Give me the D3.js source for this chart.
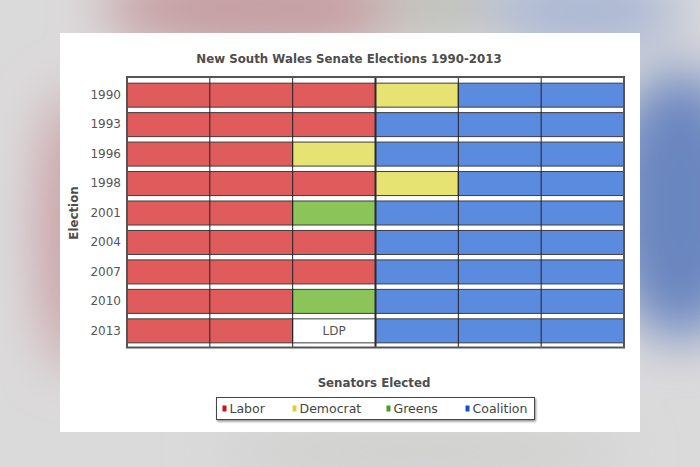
<!DOCTYPE html>
<html>
<head>
<meta charset="utf-8">
<script src="https://cdn.jsdelivr.net/npm/d3@7/dist/d3.min.js"></script>
<style>
  body { margin: 0; background: #dadada; }
  svg { display: block; }
  text { font-family: "DejaVu Sans", sans-serif; }
</style>
</head>
<body>
<svg id="chart"></svg>
<script>
// Data
var elections = ["1990", "1993", "1996", "1998", "2001", "2004", "2007", "2010", "2013"];
var labor     = [3, 3, 2, 3, 2, 3, 3, 2, 2];
var democrat  = [1, 0, 1, 1, 0, 0, 0, 0, 0];
var greens    = [0, 0, 0, 0, 1, 0, 0, 1, 0];
var ldp       = [0, 0, 0, 0, 0, 0, 0, 0, 1];
var coalition = [2, 3, 3, 2, 3, 3, 3, 3, 3];
var seriesNames = ["Labor", "Democrat", "Greens", "LDP", "Coalition"];
var legendNames = ["Labor", "Democrat", "Greens", "Coalition"];
var xTicks = [0, 1, 2, 3, 4, 5, 6];

var W = 700, H = 467;
var svg = d3.select("#chart").attr("width", W).attr("height", H);

// blurred photo-like background
var defs = svg.append("defs");
defs.append("filter").attr("id", "blur")
    .attr("x", "-50%").attr("y", "-50%").attr("width", "200%").attr("height", "200%")
    .append("feGaussianBlur").attr("stdDeviation", 26);
var shadow = defs.append("filter").attr("id", "shadow")
    .attr("x", "-10%").attr("y", "-30%").attr("width", "130%").attr("height", "180%");
shadow.append("feDropShadow").attr("dx", 1).attr("dy", 1.5).attr("stdDeviation", 1)
    .attr("flood-color", "#000").attr("flood-opacity", 0.45);

var bg = svg.append("g");
bg.append("rect").attr("width", W).attr("height", H).attr("fill", "#dbdadb");
var blobs = bg.append("g").attr("filter", "url(#blur)");
blobs.append("ellipse").attr("cx", 260).attr("cy", 8).attr("rx", 160).attr("ry", 45).attr("fill", "#c59ca0");
blobs.append("ellipse").attr("cx", 440).attr("cy", 5).attr("rx", 60).attr("ry", 35).attr("fill", "#bdbfb7");
blobs.append("ellipse").attr("cx", 585).attr("cy", 10).attr("rx", 100).attr("ry", 40).attr("fill", "#a9b6d3");
blobs.append("ellipse").attr("cx", 70).attr("cy", 230).attr("rx", 30).attr("ry", 140).attr("fill", "#c99ca0");
blobs.append("ellipse").attr("cx", 680).attr("cy", 205).attr("rx", 75).attr("ry", 135).attr("fill", "#6a86c0");
blobs.append("ellipse").attr("cx", 420).attr("cy", 452).attr("rx", 210).attr("ry", 18).attr("fill", "#cacbc8");

// white card
svg.append("rect").attr("x", 60).attr("y", 33).attr("width", 580).attr("height", 399)
    .attr("fill", "#fff");

var colors = {
  Labor: "#e05b5c", Democrat: "#e6e373", Greens: "#8bc55a",
  LDP: "#ffffff", Coalition: "#5b8bde"
};
var legendColors = {
  Labor: "#c2141e", Democrat: "#d9cf44", Greens: "#4e9a2c", Coalition: "#1a4fc0"
};

var plot = {left: 127, right: 624, top: 77, bottom: 347.5};

var x = d3.scaleLinear().domain([0, 6]).range([plot.left, plot.right]);
var y = d3.scaleBand().domain(elections).range([80.5, 345.5]).paddingInner(0.185).paddingOuter(0.09);

var table = elections.map(function(e, i) {
  return {election: e, Labor: labor[i], Democrat: democrat[i], Greens: greens[i],
          LDP: ldp[i], Coalition: coalition[i]};
});
var stacked = d3.stack().keys(seriesNames)(table);

var g = svg.append("g");
var layers = g.selectAll("g.layer").data(stacked).join("g").attr("class", "layer")
    .attr("fill", function(d) { return colors[d.key]; });
layers.selectAll("rect")
    .data(function(d) { return d.filter(function(p) { return p[1] > p[0]; }); })
    .join("rect")
    .attr("x", function(d) { return x(d[0]); })
    .attr("width", function(d) { return x(d[1]) - x(d[0]); })
    .attr("y", function(d) { return y(d.data.election); })
    .attr("height", y.bandwidth())
    .attr("stroke", "#3d3d3d")
    .attr("stroke-width", 1);

// LDP label
var ldpLayer = stacked.find(function(s) { return s.key === "LDP"; });
g.selectAll("text.ldp")
    .data(ldpLayer.filter(function(p) { return p[1] > p[0]; }))
    .join("text")
    .attr("class", "ldp")
    .attr("x", function(d) { return x((d[0] + d[1]) / 2); })
    .attr("y", function(d) { return y(d.data.election) + y.bandwidth() / 2; })
    .attr("dy", "0.35em")
    .attr("text-anchor", "middle")
    .attr("font-size", 12)
    .attr("fill", "#555")
    .text("LDP");

// vertical grid lines
g.selectAll("line.grid")
    .data(xTicks.slice(1, -1))
    .join("line")
    .attr("class", "grid")
    .attr("x1", function(d) { return x(d); })
    .attr("x2", function(d) { return x(d); })
    .attr("y1", plot.top)
    .attr("y2", plot.bottom)
    .attr("stroke", function(d) { return d === 3 ? "#2a2a2a" : "#222"; })
    .attr("stroke-width", function(d) { return d === 3 ? 2 : 1; });

// frame
svg.append("rect")
    .attr("x", plot.left).attr("y", plot.top)
    .attr("width", plot.right - plot.left).attr("height", plot.bottom - plot.top)
    .attr("fill", "none").attr("stroke", "#555").attr("stroke-width", 2);

// y axis
var yAxis = svg.append("g")
    .attr("transform", "translate(" + plot.left + ",0)")
    .call(d3.axisLeft(y).tickSize(0).tickPadding(6));
yAxis.select(".domain").remove();
yAxis.selectAll("text").attr("font-size", 12).attr("fill", "#555")
    .style("font-family", "'DejaVu Sans', sans-serif");

// titles
svg.append("text")
    .attr("x", 349).attr("y", 63)
    .attr("text-anchor", "middle")
    .attr("font-size", 11.8).attr("font-weight", "bold").attr("fill", "#4d4d4d")
    .text("New South Wales Senate Elections 1990-2013");

svg.append("text")
    .attr("x", 374).attr("y", 387)
    .attr("text-anchor", "middle")
    .attr("font-size", 11.8).attr("font-weight", "bold").attr("fill", "#4d4d4d")
    .text("Senators Elected");

svg.append("text")
    .attr("transform", "translate(78,213) rotate(-90)")
    .attr("text-anchor", "middle")
    .attr("font-size", 11.8).attr("font-weight", "bold").attr("fill", "#4d4d4d")
    .text("Election");

// legend
var legend = svg.append("g");
legend.append("rect")
    .attr("x", 216.5).attr("y", 397.5).attr("width", 318).attr("height", 22)
    .attr("fill", "#fff").attr("stroke", "#444").attr("stroke-width", 1)
    .attr("filter", "url(#shadow)");
var legendX = [222.5, 292.5, 386.5, 465.5];
var items = legend.selectAll("g.item").data(legendNames).join("g")
    .attr("class", "item")
    .attr("transform", function(d, i) { return "translate(" + legendX[i] + ",0)"; });
items.append("rect")
    .attr("x", 0).attr("y", 405.5).attr("width", 4).attr("height", 6)
    .attr("fill", function(d) { return legendColors[d]; });
items.append("text")
    .attr("x", 7).attr("y", 413)
    .attr("font-size", 12.5).attr("fill", "#444")
    .text(function(d) { return d; });
</script>
</body>
</html>
